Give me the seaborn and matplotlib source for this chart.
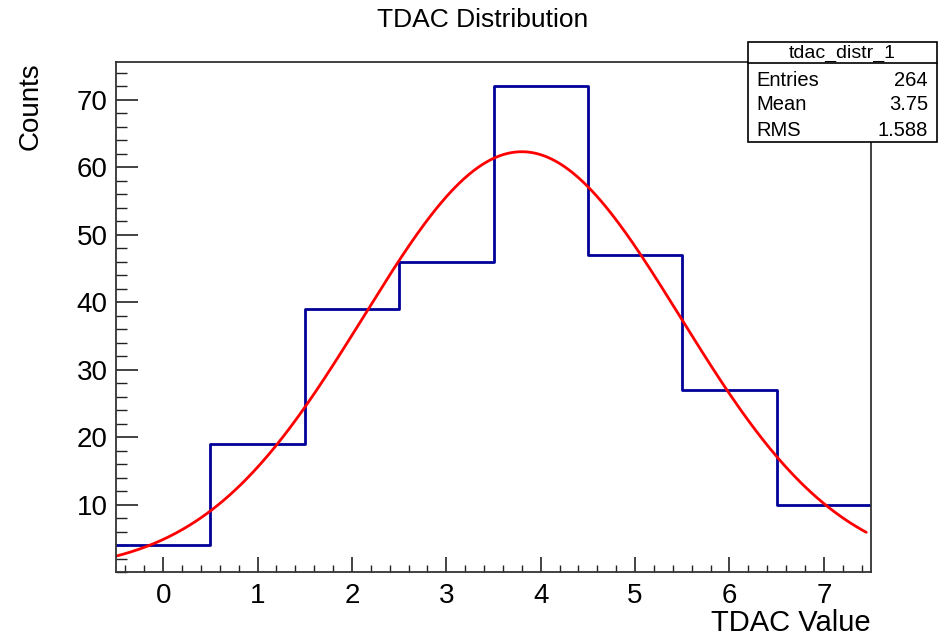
import numpy as np
import pandas as pd
import matplotlib
matplotlib.use("Agg")
import matplotlib.pyplot as plt
import seaborn as sns
from matplotlib.patches import Rectangle
from matplotlib.lines import Line2D
from matplotlib.ticker import MultipleLocator

# ---- data ----
bin_centers = [0, 1, 2, 3, 4, 5, 6, 7]
bin_counts = [4, 19, 39, 46, 72, 47, 27, 10]
bin_edges = [-0.5, 0.5, 1.5, 2.5, 3.5, 4.5, 5.5, 6.5, 7.5]
fit_constant = 62.3
fit_mean = 3.80
fit_sigma = 1.68
hist_name = "tdac_distr_1"

sns.set_theme(style="white")
plt.rcParams["font.family"] = ["Liberation Sans", "DejaVu Sans"]
plt.rcParams["text.color"] = "black"

df = pd.DataFrame({"tdac": bin_centers, "counts": bin_counts})
xs = np.linspace(bin_edges[0], bin_edges[-1] - 0.05, 400)
fit_df = pd.DataFrame({"x": xs,
                       "y": fit_constant * np.exp(-0.5 * ((xs - fit_mean) / fit_sigma) ** 2)})

W, H = 941, 638
fig = plt.figure(figsize=(W / 100, H / 100), dpi=100)
ax = fig.add_axes([116 / W, (H - 572) / H, 755 / W, 510 / H])

sns.histplot(data=df, x="tdac", weights="counts", bins=bin_edges, element="step",
             fill=False, color="#000099", linewidth=2.0, ax=ax)
sns.lineplot(data=fit_df, x="x", y="y", color="#ff0000", linewidth=2.0, ax=ax)

ax.set_xlim(bin_edges[0], bin_edges[-1])
ax.set_ylim(0, max(bin_counts) * 1.05)
ax.set_xlabel("")
ax.set_ylabel("")
ax.set_xticks(range(0, 8))
ax.set_yticks(range(10, 71, 10))
ax.xaxis.set_minor_locator(MultipleLocator(0.2))
ax.yaxis.set_minor_locator(MultipleLocator(2))
ax.tick_params(axis="both", which="both", direction="in", colors="#222222",
               labelcolor="black", labelsize=20, bottom=True, left=True,
               top=False, right=False)
ax.tick_params(axis="x", which="major", length=10.5, width=1.2, pad=8)
ax.tick_params(axis="x", which="minor", length=5, width=1.0)
ax.tick_params(axis="y", which="major", length=16, width=1.2, pad=6)
ax.tick_params(axis="y", which="minor", length=8, width=1.0)
for s in ax.spines.values():
    s.set_color("#333333")
    s.set_linewidth(1.3)

fig.text(483 / W, 1 - 20 / H, "TDAC Distribution", ha="center", va="center",
         fontsize=19, color="black")
fig.text(31 / W, 1 - 62 / H, "Counts", rotation=90, ha="center", va="top",
         fontsize=20, color="black")
fig.text(871 / W, 1 - 623 / H, "TDAC Value", ha="right", va="center",
         fontsize=21, color="black")

# stats box
entries = int(np.sum(bin_counts))
mean = np.sum(np.array(bin_centers) * np.array(bin_counts)) / entries
rms = np.sqrt(np.sum(np.array(bin_counts) * (np.array(bin_centers) - mean) ** 2) / entries)
bx0, bx1, by0, by1, bsep = 748, 937, 42, 142, 63
fig.patches.append(Rectangle((bx0 / W, 1 - by1 / H), (bx1 - bx0) / W, (by1 - by0) / H,
                             transform=fig.transFigure, facecolor="white",
                             edgecolor="black", linewidth=1.2, zorder=5))
fig.lines.append(Line2D([bx0 / W, bx1 / W], [1 - bsep / H, 1 - bsep / H],
                        transform=fig.transFigure, color="black", linewidth=1.2, zorder=6))
fig.text((bx0 + bx1) / 2 / W, 1 - 53 / H, hist_name, ha="center", va="center",
         fontsize=14, zorder=7, color="black")
rows = [("Entries", f"{entries}"), ("Mean", f"{mean:.2f}"), ("RMS", f"{rms:.3f}")]
for i, (k, v) in enumerate(rows):
    yy = 1 - (80 + 25 * i) / H
    fig.text(756 / W, yy, k, ha="left", va="center", fontsize=14.5, zorder=7, color="black")
    fig.text(928 / W, yy, v, ha="right", va="center", fontsize=14.5, zorder=7, color="black")

fig.savefig("out.png", dpi=100)
